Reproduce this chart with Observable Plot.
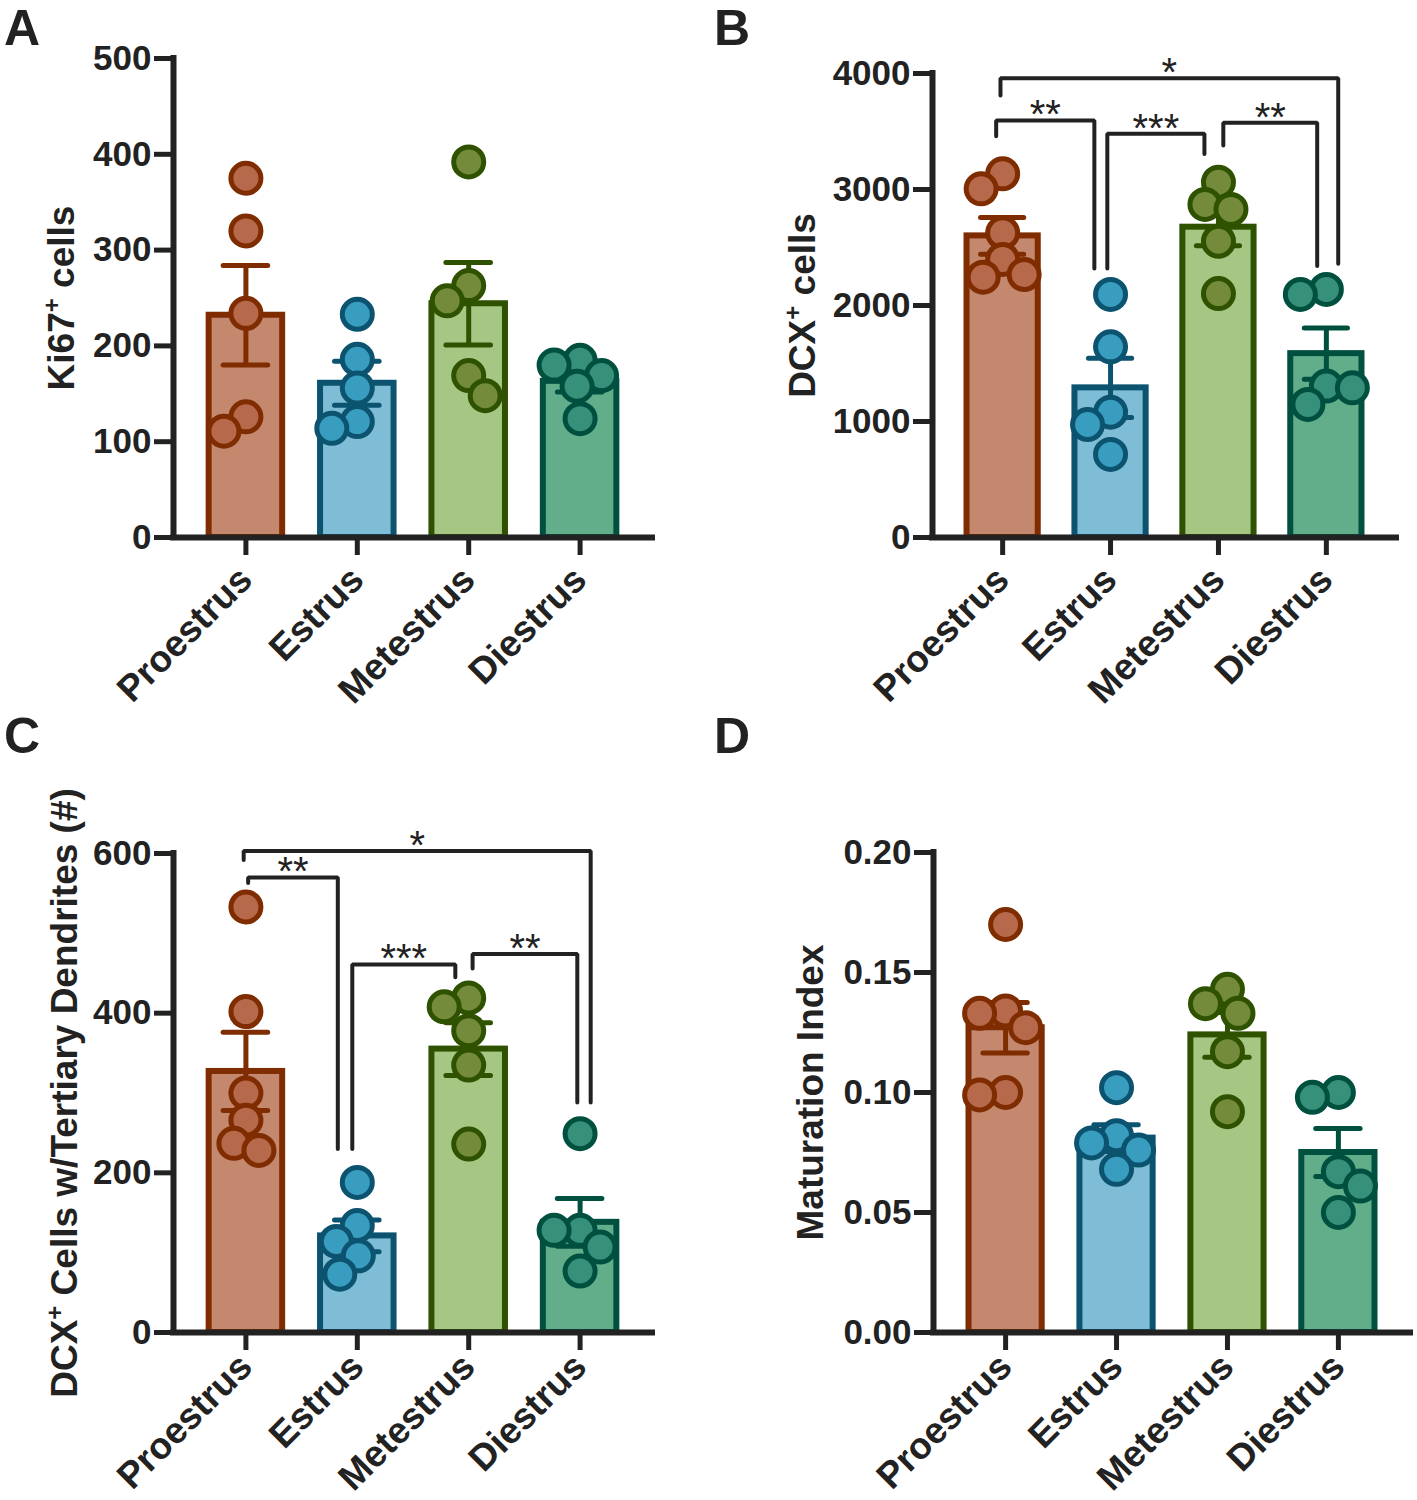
<!DOCTYPE html>
<html><head><meta charset="utf-8">
<script src="https://cdn.jsdelivr.net/npm/d3@7"></script>
<script src="https://cdn.jsdelivr.net/npm/@observablehq/plot@0.6"></script>
<style>
body{margin:0;background:#fff;}
#root{position:relative;width:1417px;height:1500px;background:#fff;overflow:hidden;font-family:"Liberation Sans",Arial,sans-serif;}
.panel{position:absolute;}
.letter{position:absolute;font-weight:bold;font-size:50px;color:#222;line-height:1;}
</style></head><body><div id="root"></div>
<script>
// ---------- data ----------
const categories = ["Proestrus", "Estrus", "Metestrus", "Diestrus"];

// Panel A: Ki67+ cells
const ki67Proestrus = [375, 320, 234, 126, 111];
const ki67Estrus = [233, 186, 156, 121, 114];
const ki67Metestrus = [392, 263, 247, 169, 148];
const ki67Diestrus = [185, 180, 169, 158, 124];
const ki67Mean = [232, 161, 244, 163];
const ki67Sem = [52, 23, 43, 11];
const ki67Ticks = [0, 100, 200, 300, 400, 500];

// Panel B: DCX+ cells
const dcxProestrus = [3135, 3006, 2627, 2397, 2267, 2244];
const dcxEstrus = [2095, 1644, 1080, 974, 716];
const dcxMetestrus = [3063, 2871, 2828, 2554, 2103];
const dcxDiestrus = [2138, 2095, 1305, 1290, 1147];
const dcxMean = [2600, 1290, 2675, 1585];
const dcxSem = [158, 255, 160, 220];
const dcxTicks = [0, 1000, 2000, 3000, 4000];

// Panel C: DCX+ cells with tertiary dendrites
const tertProestrus = [533, 402, 300, 266, 237, 228];
const tertEstrus = [188, 134, 114, 96, 73];
const tertMetestrus = [419, 408, 378, 335, 236];
const tertDiestrus = [249, 128, 128, 107, 77];
const tertMean = [327, 121, 355, 138];
const tertSem = [49, 20, 33, 30];
const tertTicks = [0, 200, 400, 600];

// Panel D: Maturation index
const matProestrus = [0.170, 0.134, 0.133, 0.127, 0.100, 0.099];
const matEstrus = [0.102, 0.082, 0.079, 0.076, 0.068];
const matMetestrus = [0.143, 0.137, 0.133, 0.117, 0.092];
const matDiestrus = [0.100, 0.098, 0.067, 0.061, 0.050];
const matMean = [0.127, 0.081, 0.124, 0.075];
const matSem = [0.0105, 0.0056, 0.0093, 0.0100];
const matTicks = [0, 0.05, 0.10, 0.15, 0.20];

// significance brackets (values in data units)
const bracketsB = [
  {from: "Proestrus", to: "Diestrus", label: "*", top: 3960, fromEnd: 3810, toEnd: 2360, fromNudge: -0.02, toNudge: 0.11},
  {from: "Proestrus", to: "Estrus", label: "**", top: 3595, fromEnd: 3460, toEnd: 2320, fromNudge: -0.06, toNudge: -0.15},
  {from: "Estrus", to: "Metestrus", label: "***", top: 3480, fromEnd: 2320, toEnd: 3305, fromNudge: -0.03, toNudge: -0.13},
  {from: "Metestrus", to: "Diestrus", label: "**", top: 3575, fromEnd: 3380, toEnd: 2340, fromNudge: 0.045, toNudge: -0.085}
];
const bracketsC = [
  {from: "Proestrus", to: "Diestrus", label: "*", top: 603, fromEnd: 592, toEnd: 288, fromNudge: -0.02, toNudge: 0.095},
  {from: "Proestrus", to: "Estrus", label: "**", top: 570, fromEnd: 563, toEnd: 230, fromNudge: 0.02, toNudge: -0.175},
  {from: "Estrus", to: "Metestrus", label: "***", top: 461, fromEnd: 230, toEnd: 445, fromNudge: -0.045, toNudge: -0.12},
  {from: "Metestrus", to: "Diestrus", label: "**", top: 474, fromEnd: 456, toEnd: 288, fromNudge: 0.035, toNudge: -0.025}
];

// ---------- styles ----------
const barFill = ["#C4886F", "#7EBDD5", "#A6C684", "#62AE8B"];
const darkStroke = ["#7E2C00", "#0C5370", "#2F5200", "#005040"];
const dotFill = ["#B7694B", "#389DBE", "#738B3B", "#36907A"];
const INK = "#222";
const X0 = -0.65, X1 = 3.65;
const HW = 0.33, CAP = 0.2;
const FONT = "'Liberation Sans', Arial, Helvetica, sans-serif";

function swarm(values, i, ppx, ppy, minD) {
  const sorted = values.slice().sort((a, b) => b - a);
  const placed = [];
  let lastSide = 1;
  for (const v of sorted) {
    const py = v * ppy;
    let chosen = null;
    for (let o = 0; o <= 60 && chosen === null; o += 0.5) {
      const cands = o === 0 ? [0] : [-lastSide * o, lastSide * o];
      for (const c of cands) {
        if (placed.every(p => Math.hypot(p.px - c, p.py - py) >= minD)) { chosen = c; break; }
      }
    }
    if (chosen === null) chosen = 0;
    if (chosen !== 0) lastSide = Math.sign(chosen);
    placed.push({px: chosen, py, v});
  }
  return placed.map(p => ({i, value: p.v, jx: p.px / ppx}));
}

function superPlus(svg) {
  const ns = "http://www.w3.org/2000/svg";
  svg.querySelectorAll("text").forEach(t => {
    if (t.children.length === 0 && t.textContent.includes("\u207A")) {
      const [a, b] = t.textContent.split("\u207A");
      t.textContent = "";
      const s1 = document.createElementNS(ns, "tspan"); s1.textContent = a;
      const s2 = document.createElementNS(ns, "tspan"); s2.textContent = "+";
      s2.setAttribute("font-size", "24"); s2.setAttribute("dy", "-14");
      const s3 = document.createElementNS(ns, "tspan"); s3.textContent = b;
      s3.setAttribute("dy", "14");
      t.append(s1, s2, s3);
    }
  });
}

function panel(cfg) {
  const {left, top, width, height, ml, mr, mt, mb, ymax, ticks, tickFormat, title, titleDx, groups, means, sems, brackets, labelPad} = cfg;
  const ppx = (width - ml - mr) / (X1 - X0);
  const ppy = (height - mt - mb) / ymax;
  const bars = categories.map((c, i) => ({i, mean: means[i], sem: sems[i]}));
  const caps = bars.flatMap(d => [{i: d.i, y: d.mean + d.sem}, {i: d.i, y: d.mean - d.sem}]);
  const dots = groups.flatMap((vals, i) => swarm(vals, i, ppx, ppy, 26));
  const marks = [
    Plot.rectY(bars, {x1: d => d.i - HW, x2: d => d.i + HW, y1: 0, y2: "mean",
      fill: d => barFill[d.i], stroke: d => darkStroke[d.i], strokeWidth: 6}),
    Plot.ruleX(bars, {x: "i", y1: d => d.mean - d.sem, y2: d => d.mean + d.sem,
      stroke: d => darkStroke[d.i], strokeWidth: 5}),
    Plot.ruleY(caps, {y: "y", x1: d => d.i - CAP, x2: d => d.i + CAP,
      stroke: d => darkStroke[d.i], strokeWidth: 5, strokeLinecap: "round"}),
    Plot.dot(dots, {x: d => d.i + d.jx, y: "value", r: 15,
      fill: d => dotFill[d.i], stroke: d => darkStroke[d.i], strokeWidth: 5}),
    Plot.ruleX([X0], {stroke: INK, strokeWidth: 6, strokeLinecap: "square"}),
    Plot.ruleY([0], {stroke: INK, strokeWidth: 6, strokeLinecap: "square"}),
    Plot.axisY({ticks, tickFormat, tickSize: 19, tickPadding: 3, strokeWidth: 5,
      stroke: INK, fill: INK, fontSize: 35, fontWeight: "bold", label: null}),
    Plot.axisX({ticks: [0, 1, 2, 3], tickFormat: i => categories[i], tickRotate: -45,
      tickSize: 18, tickPadding: labelPad, strokeWidth: 5, stroke: INK, fill: INK,
      fontSize: 37, fontWeight: "bold", textAnchor: "end", lineAnchor: "middle", label: null}),
    Plot.text([title], {frameAnchor: "left", dx: titleDx, rotate: -90, fontSize: 37,
      fontWeight: "bold", fill: INK, textAnchor: "middle", lineAnchor: "middle"})
  ];
  if (brackets) {
    const idx = c => categories.indexOf(c);
    const pts = brackets.flatMap((b, k) => {
      const xf = idx(b.from) + b.fromNudge, xt = idx(b.to) + b.toNudge;
      return [{k, x: xf, y: b.fromEnd}, {k, x: xf, y: b.top}, {k, x: xt, y: b.top}, {k, x: xt, y: b.toEnd}];
    });
    marks.push(Plot.line(pts, {x: "x", y: "y", z: "k", stroke: INK, strokeWidth: 4, strokeLinejoin: "miter"}));
    marks.push(Plot.text(brackets, {
      x: b => (idx(b.from) + b.fromNudge + idx(b.to) + b.toNudge) / 2, y: "top", text: "label",
      dy: -5, fontSize: 40, fontWeight: "normal", fill: INK, lineAnchor: "middle"}));
  }
  const svg = Plot.plot({
    width, height, marginLeft: ml, marginRight: mr, marginTop: mt, marginBottom: mb,
    x: {domain: [X0, X1], label: null},
    y: {domain: [0, ymax], label: null},
    color: {type: "identity"},
    style: {fontFamily: FONT, fontSize: "35px", color: INK, background: "transparent", overflow: "visible"},
    marks
  });
  superPlus(svg);
  const wrap = document.createElement("div");
  wrap.className = "panel";
  wrap.style.left = left + "px"; wrap.style.top = top + "px";
  wrap.appendChild(svg);
  document.getElementById("root").appendChild(wrap);
}

const fmtInt = d => String(d);
panel({left: 0, top: 0, width: 700, height: 700, ml: 173, mr: 48, mt: 58, mb: 163, labelPad: 18,
  ymax: 500, ticks: ki67Ticks, tickFormat: fmtInt, title: "Ki67\u207A cells", titleDx: -111,
  groups: [ki67Proestrus, ki67Estrus, ki67Metestrus, ki67Diestrus], means: ki67Mean, sems: ki67Sem});
panel({left: 700, top: 0, width: 717, height: 700, ml: 232, mr: 21, mt: 73, mb: 163, labelPad: 18,
  ymax: 4000, ticks: dcxTicks, tickFormat: fmtInt, title: "DCX\u207A cells", titleDx: -129,
  groups: [dcxProestrus, dcxEstrus, dcxMetestrus, dcxDiestrus], means: dcxMean, sems: dcxSem, brackets: bracketsB});
panel({left: 0, top: 700, width: 700, height: 800, ml: 173, mr: 48, mt: 153, mb: 168, labelPad: 10,
  ymax: 600, ticks: tertTicks, tickFormat: fmtInt, title: "DCX\u207A Cells w/Tertiary Dendrites (#)", titleDx: -108,
  groups: [tertProestrus, tertEstrus, tertMetestrus, tertDiestrus], means: tertMean, sems: tertSem, brackets: bracketsC});
panel({left: 700, top: 700, width: 717, height: 800, ml: 233, mr: 7, mt: 152, mb: 168, labelPad: 10,
  ymax: 0.2, ticks: matTicks, tickFormat: d => d.toFixed(2), title: "Maturation Index", titleDx: -122,
  groups: [matProestrus, matEstrus, matMetestrus, matDiestrus], means: matMean, sems: matSem});

[["A", 4, 3], ["B", 714, 3], ["C", 4, 711], ["D", 714, 711]].forEach(([t, x, y]) => {
  const d = document.createElement("div");
  d.className = "letter"; d.textContent = t;
  d.style.left = x + "px"; d.style.top = y + "px";
  document.getElementById("root").appendChild(d);
});
</script></body></html>
